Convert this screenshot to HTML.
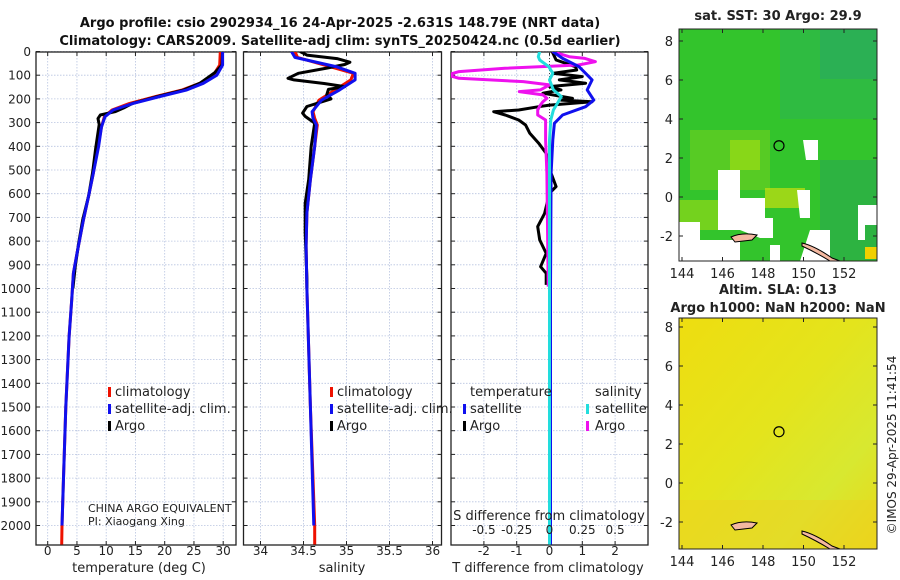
<!DOCTYPE html>
<html><head><meta charset="utf-8"><style>
html,body{margin:0;padding:0;background:#fff;width:900px;height:580px;overflow:hidden}
svg{font-family:"DejaVu Sans","Liberation Sans",sans-serif}
</style></head><body>
<svg id="fig" width="900" height="580" viewBox="0 0 900 580" xmlns="http://www.w3.org/2000/svg">
<defs>
<clipPath id="c1"><rect x="36" y="52" width="200" height="493"/></clipPath>
<clipPath id="c2"><rect x="243.5" y="52" width="198" height="493"/></clipPath>
<clipPath id="c3"><rect x="451" y="52" width="197" height="493"/></clipPath>
<clipPath id="cm1"><rect x="679" y="29" width="198" height="232"/></clipPath>
<clipPath id="cm2"><rect x="679" y="318" width="198" height="231"/></clipPath>
<linearGradient id="g2" x1="0" y1="0" x2="1" y2="1">
<stop offset="0" stop-color="#eedd10"/><stop offset="0.45" stop-color="#e4e41c"/><stop offset="0.75" stop-color="#d8e830"/><stop offset="1" stop-color="#e8d818"/></linearGradient>
</defs>
<g id="titles" font-weight="bold" font-size="13" text-anchor="middle" fill="#111">
<text x="340" y="27">Argo profile: csio 2902934_16 24-Apr-2025 -2.631S 148.79E (NRT data)</text>
<text x="340" y="45">Climatology: CARS2009. Satellite-adj clim: synTS_20250424.nc (0.5d earlier)</text>
</g>
<g id="p1"></g>
<g id="p2"></g>
<g id="p3"></g>
<g id="m1"></g>
<g id="m2"></g>
<text x="896" y="445" transform="rotate(-90 896 445)" font-size="12" text-anchor="middle" fill="#222">©IMOS 29-Apr-2025 11:41:54</text>
</svg>
<script>
// ---- data ----
const climDepth = [0,57,100,134,162,190,219,247,275,318,401,514,598,711,852,936,1049,1203,1500,1800,2000,2080];
const climTemp  = [29.5,29.4,28.3,26.0,23.0,18.5,14.0,11.0,9.7,9.2,8.6,7.8,7.1,6.1,5.0,4.4,4.1,3.65,3.1,2.7,2.45,2.4];
const satTemp   = [29.9,29.9,28.9,26.6,23.8,19.2,14.6,11.2,9.8,9.2,8.7,7.8,7.1,6.1,5.0,4.4,4.1,3.65,3.1,2.7,2.45,2.4];
const argoDepthT = [0,57,88,108,134,162,190,219,238,254,268,283,308,408,508,608,708,808,908,1000];
const argoTemp   = [29.9,29.8,28.6,27.5,26.0,23.3,18.8,14.5,13.0,11.5,9.0,8.6,8.8,8.2,7.7,7.0,6.0,5.3,4.7,4.3];
const salDepth = [0,25,65,92,120,162,205,254,282,310,400,540,680,820,1000,1500,2000,2080];
const satSal   = [34.36,34.40,34.89,35.10,35.10,34.92,34.71,34.60,34.61,34.65,34.63,34.58,34.54,34.53,34.54,34.58,34.62,34.62];
const climSal  = [34.40,34.43,34.82,35.08,35.05,34.87,34.68,34.61,34.63,34.66,34.63,34.58,34.54,34.53,34.54,34.58,34.63,34.63];
const argoDepthS = [0,15,30,45,55,70,92,113,120,135,148,160,183,200,232,260,274,302,400,540,640,765,960,1000];
const argoSal    = [34.46,34.54,34.89,35.04,34.98,34.77,34.44,34.32,34.39,34.74,34.98,34.79,34.77,34.82,34.54,34.49,34.52,34.63,34.59,34.56,34.52,34.52,34.54,34.54];
const dTDepthArgo = [0,36,64,78,92,106,120,134,148,162,176,198,205,212,226,233,247,254,268,289,310,345,387,430,514,570,598,683,739,795,852,908,936,985];
const dTArgo      = [0.08,0.2,0.79,0.83,0.1,1.0,0.3,1.1,0.0,0.35,-0.2,0.7,0.35,1.3,0.0,-0.33,-0.94,-1.7,-1.35,-0.94,-0.73,-0.6,-0.33,-0.1,0.05,0.2,0.0,-0.15,-0.36,-0.3,-0.1,-0.27,-0.1,-0.1];
const dTDepthSat = [0,29,64,92,120,162,205,233,268,303,373,514,1000,2000,2080];
const dTSat      = [0.1,0.4,0.9,1.1,1.3,1.15,1.35,1.1,0.4,0.15,0.1,0.05,0.03,0.03,0.03];
const dSDepthSat = [0,22,36,64,92,120,162,190,219,247,289,373,1000,2080];
const dSSat      = [-0.075,-0.085,-0.075,-0.005,0.025,0.0,0.03,0.09,0.06,0.03,0.01,0.0,0.0,0.0];
const dSDepthArgo = [0,22,29,43,57,71,85,99,113,127,141,162,169,183,197,212,226,247,268,289,373,514,992];
const dSArgo      = [0.02,0.15,0.27,0.35,0.22,-0.34,-0.69,-0.78,-0.69,-0.2,0.0,-0.07,-0.23,-0.05,-0.02,-0.05,-0.07,-0.09,-0.09,-0.03,-0.03,-0.02,-0.01];
const depthTicks = [0,100,200,300,400,500,600,700,800,900,1000,1100,1200,1300,1400,1500,1600,1700,1800,1900,2000];
const tempTicks = [0,5,10,15,20,25,30];
const salTicks = [34,34.5,35,35.5,36];
const dTTicks = [-2,-1,0,1,2];
const dSTicks = [-0.5,-0.25,0,0.25,0.5];
const dSTickLabels = ['-0.5','-0.25','0','0.25','0.5'];
const lonTicks = [144,146,148,150,152];
const latTicks = [-2,0,2,4,6,8];

const NS='http://www.w3.org/2000/svg';
function mk(parent,tag,attrs){const e=document.createElementNS(NS,tag);for(const k in attrs)e.setAttribute(k,attrs[k]);parent.appendChild(e);return e;}
const yD = d => 51.5 + d*0.237;
const PTOP=52, PBOT=545;
function panel(g,x0,x1,xf,ticks,labels,showY){
  ticks.forEach(t=>{const l=mk(g,'line',{x1:xf(t),x2:xf(t),y1:PTOP,y2:PBOT,stroke:'#b8c4e0','stroke-width':0.8,'stroke-dasharray':'1.5,1.5'});
    
    });
  depthTicks.forEach(d=>{const l=mk(g,'line',{x1:x0,x2:x1,y1:yD(d),y2:yD(d),stroke:'#b8c4e0','stroke-width':0.8,'stroke-dasharray':'1.5,1.5'});
    
    
    mk(g,'line',{x1:x0,x2:x0+4,y1:yD(d),y2:yD(d),stroke:'#222'});
    mk(g,'line',{x1:x1-4,x2:x1,y1:yD(d),y2:yD(d),stroke:'#222'});
    if(showY){const t=mk(g,'text',{x:31,y:yD(d)+4.5,'font-size':12,'text-anchor':'end',fill:'#222'});t.textContent=d;
      
      }
  });
  ticks.forEach((t,i)=>{mk(g,'line',{x1:xf(t),x2:xf(t),y1:PBOT,y2:PBOT-4,stroke:'#222'});mk(g,'line',{x1:xf(t),x2:xf(t),y1:PTOP,y2:PTOP+4,stroke:'#222'});
    const tx=mk(g,'text',{x:xf(t),y:555,'font-size':12,'text-anchor':'middle',fill:'#222'});tx.textContent=labels[i];
    
    });
  const r=mk(g,'rect',{x:x0,y:PTOP,width:x1-x0,height:PBOT-PTOP,fill:'none',stroke:'#222','stroke-width':1.3});
  
  
}
function drawLine(g,xs,ds,xf,color,w,clip,name){
  const pts=xs.map((v,i)=>xf(v).toFixed(1)+','+yD(ds[i]).toFixed(1)).join(' ');
  const p=mk(g,'polyline',{points:pts,fill:'none',stroke:color,'stroke-width':w,'stroke-linejoin':'round','clip-path':'url(#'+clip+')'});
  
  
}
function txt(g,x,y,s,opts,name){const t=mk(g,'text',Object.assign({x:x,y:y,'font-size':12,fill:'#222'},opts||{}));t.textContent=s;
  
  return t;}
function legMark(g,x,y,color,name){const r=mk(g,'rect',{x:x,y:y-9,width:3,height:10,fill:color});
  
  }

// Panel 1
const p1=document.getElementById('p1');
const xT = t => 47.7 + t*5.85;
panel(p1,36,236,xT,tempTicks,tempTicks.map(String),true);
drawLine(p1,climTemp,climDepth,xT,'#ee1100',3,'c1','climatology-temp-line');
drawLine(p1,argoTemp,argoDepthT,xT,'#000',3,'c1','argo-temp-line');
drawLine(p1,satTemp.slice(0,21),climDepth.slice(0,21),xT,'#1010ee',3,'c1','satellite-temp-line');
txt(p1,139,572,'temperature (deg C)',{'text-anchor':'middle','font-size':13},'x-axis-title-temperature');
legMark(p1,108,396,'#ee1100','legend-climatology-marker');
txt(p1,115,396,'climatology',{'font-size':13},'legend-climatology');
legMark(p1,108,413,'#1010ee','legend-satellite-marker');
txt(p1,115,413,'satellite-adj. clim.',{'font-size':13},'legend-satellite-adj');
legMark(p1,108,430,'#000','legend-argo-marker');
txt(p1,115,430,'Argo',{'font-size':13},'legend-argo');
txt(p1,88,512,'CHINA ARGO EQUIVALENT',{'font-size':11},'data-centre-label');
txt(p1,88,525,'PI: Xiaogang Xing',{'font-size':11},'pi-label');

// Panel 2
const p2=document.getElementById('p2');
const xS = s => 260.5 + (s-34)*86;
panel(p2,243.5,441.5,xS,salTicks,salTicks.map(String),false);
drawLine(p2,climSal,salDepth,xS,'#ee1100',3,'c2','climatology-salinity-line');
drawLine(p2,argoSal,argoDepthS,xS,'#000',3,'c2','argo-salinity-line');
drawLine(p2,satSal.slice(0,17),salDepth.slice(0,17),xS,'#1010ee',3,'c2','satellite-salinity-line');
txt(p2,342,572,'salinity',{'text-anchor':'middle','font-size':13},'x-axis-title-salinity');
legMark(p2,330,396,'#ee1100','legend-climatology-marker');
txt(p2,337,396,'climatology',{'font-size':13},'legend-climatology');
legMark(p2,330,413,'#1010ee','legend-satellite-marker');
txt(p2,337,413,'satellite-adj. clim.',{'font-size':13},'legend-satellite-adj');
legMark(p2,330,430,'#000','legend-argo-marker');
txt(p2,337,430,'Argo',{'font-size':13},'legend-argo');

// Panel 3
const p3=document.getElementById('p3');
const xdT = t => 549.5 + t*32.8;
const xdS = s => xdT(s*4);
panel(p3,451,648,xdT,dTTicks,dTTicks.map(String),false);
mk(p3,'line',{x1:xdT(0),x2:xdT(0),y1:PTOP,y2:PBOT,stroke:'#444','stroke-dasharray':'1,2'});
drawLine(p3,dTArgo,dTDepthArgo,xdT,'#000',3,'c3','argo-temp-diff-line');
drawLine(p3,dSArgo,dSDepthArgo,xdS,'#ee11ee',3,'c3','argo-salinity-diff-line');
drawLine(p3,dTSat,dTDepthSat,xdT,'#1010ee',3,'c3','satellite-temp-diff-line');
drawLine(p3,dSSat,dSDepthSat,xdS,'#22dddd',3,'c3','satellite-salinity-diff-line');
txt(p3,548,572,'T difference from climatology',{'text-anchor':'middle','font-size':13},'x-axis-title-t-diff');
txt(p3,549,520,'S difference from climatology',{'text-anchor':'middle','font-size':13},'s-diff-axis-title');
dSTicks.forEach((s,i)=>{txt(p3,xdS(s),534,dSTickLabels[i],{'text-anchor':'middle','font-size':12},'s-diff-tick-label');});
txt(p3,470,396,'temperature',{'font-size':13},'legend-temperature-header');
legMark(p3,463,413,'#1010ee','legend-temp-satellite-marker');
txt(p3,470,413,'satellite',{'font-size':13},'legend-temp-satellite');
legMark(p3,463,430,'#000','legend-temp-argo-marker');
txt(p3,470,430,'Argo',{'font-size':13},'legend-temp-argo');
txt(p3,595,396,'salinity',{'font-size':13},'legend-salinity-header');
legMark(p3,586,413,'#22dddd','legend-sal-satellite-marker');
txt(p3,595,413,'satellite',{'font-size':13},'legend-sal-satellite');
legMark(p3,586,430,'#ee11ee','legend-sal-argo-marker');
txt(p3,595,430,'Argo',{'font-size':13},'legend-sal-argo');

// Maps
const lonX = l => 682 + (l-144)*20.25;
function mapAxes(g,x0,y0,x1,y1,latY){
  latTicks.forEach(la=>{const y=latY(la);mk(g,'line',{x1:x0,x2:x0+4,y1:y,y2:y,stroke:'#222'});mk(g,'line',{x1:x1-4,x2:x1,y1:y,y2:y,stroke:'#222'});
    txt(g,673,y+5,String(la),{'text-anchor':'end','font-size':13},'lat-tick-label');});
  lonTicks.forEach(lo=>{const x=lonX(lo);mk(g,'line',{x1:x,x2:x,y1:y1,y2:y1-4,stroke:'#222'});mk(g,'line',{x1:x,x2:x,y1:y0,y2:y0+4,stroke:'#222'});
    txt(g,x,y1+17,String(lo),{'text-anchor':'middle','font-size':13},'lon-tick-label');});
  const r=mk(g,'rect',{x:x0,y:y0,width:x1-x0,height:y1-y0,fill:'none',stroke:'#222','stroke-width':1});
  
  
}
// map 1
const m1=document.getElementById('m1');
const lat1 = la => 41 + (8-la)*19.5;
const f1=mk(m1,'g',{'clip-path':'url(#cm1)'});
mk(f1,'rect',{x:679,y:29,width:198,height:232,fill:'#33c42c'});
mk(f1,'rect',{x:780,y:29,width:97,height:90,fill:'#2eb84a',opacity:0.7});
mk(f1,'rect',{x:820,y:29,width:57,height:50,fill:'#2aa860',opacity:0.6});
mk(f1,'rect',{x:820,y:160,width:57,height:100,fill:'#2aa850',opacity:0.6});
mk(f1,'rect',{x:690,y:130,width:80,height:60,fill:'#70d020',opacity:0.6});
mk(f1,'rect',{x:730,y:140,width:30,height:30,fill:'#a8e010',opacity:0.6});
mk(f1,'rect',{x:765,y:188,width:40,height:20,fill:'#c8e010',opacity:0.7});
mk(f1,'rect',{x:679,y:200,width:40,height:30,fill:'#90d818',opacity:0.7});
const whites=[[718,170,740,170,740,198,765,198,765,218,773,218,773,238,760,238,740,230,718,230],
 [679,222,700,222,700,240,740,240,740,261,679,261],
 [803,140,818,140,818,160,806,160],[797,190,810,190,810,218,800,218],
 [810,230,830,230,830,261,800,261],[858,205,877,205,877,225,865,225,865,240,858,240],
 [770,245,780,245,780,261,770,261]];
whites.forEach(w=>{const p=mk(f1,'polygon',{points:w.join(' '),fill:'#fff'});
  
  });
mk(f1,'rect',{x:865,y:247,width:12,height:12,fill:'#f0d000'});
mk(f1,'path',{d:'M731 237 Q742 232 757 235 L752 240 L735 242 Z',fill:'#f4b8a0',stroke:'#000','stroke-width':1});
mk(f1,'path',{d:'M802 243 Q815 246 832 258 L840 261 L830 261 Q815 252 802 246 Z',fill:'#f4b8a0',stroke:'#000','stroke-width':1});
const c1=mk(m1,'circle',{cx:lonX(148.79),cy:lat1(2.63),r:5,fill:'none',stroke:'#000','stroke-width':1.2});


mapAxes(m1,679,29,877,261,lat1);
txt(m1,778,20,'sat. SST: 30 Argo: 29.9',{'text-anchor':'middle','font-size':13,'font-weight':'bold'},'sst-map-title');
// map 2
const m2=document.getElementById('m2');
const lat2 = la => 327 + (8-la)*19.5;
const f2=mk(m2,'g',{'clip-path':'url(#cm2)'});
mk(f2,'rect',{x:679,y:318,width:198,height:231,fill:'url(#g2)'});
mk(f2,'rect',{x:679,y:500,width:198,height:49,fill:'#f0d020',opacity:0.5});
mk(f2,'path',{d:'M731 525 Q742 520 757 523 L752 528 L735 530 Z',fill:'#f4b8a0',stroke:'#000','stroke-width':1});
mk(f2,'path',{d:'M802 531 Q815 534 832 546 L840 549 L830 549 Q815 540 802 534 Z',fill:'#f4b8a0',stroke:'#000','stroke-width':1});
const c2=mk(m2,'circle',{cx:lonX(148.79),cy:lat2(2.63),r:5,fill:'none',stroke:'#000','stroke-width':1.2});


mapAxes(m2,679,318,877,549,lat2);
txt(m2,778,294,'Altim. SLA: 0.13',{'text-anchor':'middle','font-size':13,'font-weight':'bold'},'sla-map-title');
txt(m2,778,312,'Argo h1000: NaN h2000: NaN',{'text-anchor':'middle','font-size':13,'font-weight':'bold'},'sla-map-subtitle');
</script>
</body></html>
